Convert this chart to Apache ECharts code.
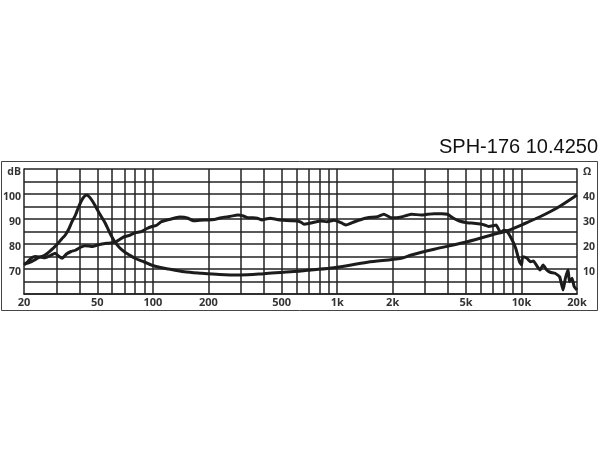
<!DOCTYPE html>
<html>
<head>
<meta charset="utf-8">
<script src="https://cdn.jsdelivr.net/npm/echarts@6/dist/echarts.min.js"></script>
<style>html,body{margin:0;padding:0;background:#fff}#c{width:600px;height:450px}</style>
</head>
<body>
<div id="c"></div>
<script>
const title = 'SPH-176 10.4250';
const xLabelValues = [20, 50, 100, 200, 500, 1000, 2000, 5000, 10000, 20000];
const gridFreqs = [30,40,50,60,70,80,90,100,200,300,400,500,600,700,800,900,1000,2000,3000,4000,5000,6000,7000,8000,9000,10000];
const dbLabels = [70, 80, 90, 100];
const ohmLabels = [10, 20, 30, 40];

const splFreq = [20,21,22,23,24.5,26,28,29.5,31,32.2,34,36,38,40,42.7,45,47,50,53,57,60,63,66,70,75,80,87,93,98,105,111,118,126,133,140,148,155,162,168,180,199,215,235,260,290,310,328,350,369,391,410,434,470,510,560,610,640,660,700,760,816,880,960,1020,1070,1118,1180,1243,1350,1460,1655,1790,1880,1960,2100,2230,2400,2525,2860,3100,3360,3700,3970,4230,4600,5080,5500,5990,6300,6620,7000,7280,7500,7700,8000,8300,8800,9300,9750,10000,10150,10700,11200,11600,12100,12600,13100,13700,14300,15200,16100,16800,17300,17900,18200,18800,19300,20000];
const splDb = [71.6,73,74.5,75,74.8,74.5,75.5,76.3,75,74.3,76,77,77.5,78.5,79.3,79.2,79,79.6,80,80.3,80.5,80.8,81.8,82.9,83.5,84.5,85,86.2,86.9,87.5,88.9,89.5,90,90.5,90.8,90.7,90.3,89.6,89.3,89.5,89.6,89.8,90.5,91,91.6,91.2,90.5,90.5,90.3,89.6,90,90.3,89.8,89.5,89.3,89.2,88.6,87.9,88.2,88.8,89.2,88.9,89.5,88.9,88.2,87.6,88.2,88.9,89.8,90.5,90.9,91.9,91.2,90.5,90.5,90.8,91.5,91.9,91.6,91.9,92.1,92.1,91.9,90.5,89.2,88.5,88.3,88,87.6,87,87.3,87.6,86,84.5,85.5,85.2,82.3,78.3,72.9,71.6,74.9,74.3,72.9,73.2,71.3,69.6,71.6,69.6,68.7,68.3,66.9,61.6,66.3,69.6,64.9,66.3,63,61.6];

const impFreq = [20,22,24,26,28,30,32,33.5,35,36.4,38,39.3,40.5,41.9,43.7,45,46.6,48.5,50.6,53,55,57.5,60,62.4,66,70,75,80,90,98,110,121.5,148,183,230,298,400,510,636,720,960,1460,2230,2525,3360,5080,7430,8300,10500,12600,15500,20000];
const impOhm = [12,13,14.5,15.6,17.5,19.6,22,23.6,26,28.9,31.5,34.3,36.5,38.5,39.6,39,37.6,35.5,33,30.5,28.5,25.5,22.8,20.7,18.5,16.9,15.5,14.3,12.8,11.6,10.6,10,8.9,8.3,7.8,7.6,8.1,8.7,9.2,9.6,10.5,12.7,14.3,15.6,17.9,20.9,24.3,25.2,28.3,30.9,34.3,39.6];

const zip = (a, b) => a.map((v, i) => [v, b[i]]);
const lineColor = '#1c1c1c';
const gridColor = '#222';
const font = 'Open Sans, DejaVu Sans, sans-serif';

const chart = echarts.init(document.getElementById('c'), null, {renderer: 'canvas'});
chart.setOption({
  animation: false,
  backgroundColor: '#fff',
  title: {
    text: title, right: -3, top: 132,
    textStyle: {fontFamily: 'Liberation Sans, Arial, sans-serif', fontSize: 20, fontWeight: 'normal', color: '#111'}
  },
  graphic: [{
    type: 'rect', shape: {x: 1.5, y: 161.5, width: 596, height: 149},
    style: {fill: 'none', stroke: '#444', lineWidth: 1}, silent: true, z: -1
  }],
  grid: {left: 22, right: 23, top: 169, bottom: 156, show: false},
  xAxis: {
    type: 'log', logBase: 10, min: 20, max: 20000,
    axisLine: {show: true, lineStyle: {color: gridColor, width: 1.5}},
    axisTick: {show: false},
    splitLine: {show: false},
    minorTick: {show: false},
    axisLabel: {
      customValues: xLabelValues,
      margin: 3,
      fontFamily: font, fontSize: 11, fontWeight: 'bold', color: '#333',
      formatter: v => v >= 1000 ? (v / 1000) + 'k' : String(v)
    }
  },
  yAxis: [{
    type: 'value', min: 60, max: 110, interval: 5,
    axisLine: {show: true, lineStyle: {color: gridColor, width: 1.5}},
    axisTick: {show: false},
    splitLine: {show: true, lineStyle: {color: gridColor, width: 1.5}},
    axisLabel: {
      margin: 3, fontFamily: font, fontSize: 10.5, fontWeight: 'bold', color: '#333',
      formatter: v => v === 110 ? 'dB' : (dbLabels.includes(v) ? String(v) : ''),
      verticalAlign: 'top', padding: [-2, 0, 0, 0]
    }
  }, {
    type: 'value', min: 0, max: 50, interval: 5, position: 'right',
    axisLine: {show: true, lineStyle: {color: gridColor, width: 1.5}},
    axisTick: {show: false},
    splitLine: {show: false},
    axisLabel: {
      margin: 6, fontFamily: font, fontSize: 10.5, fontWeight: 'bold', color: '#333',
      formatter: v => v === 50 ? 'Ω' : (ohmLabels.includes(v) ? String(v) : ''),
      verticalAlign: 'top', padding: [-2, 0, 0, 0]
    }
  }],
  series: [{
    type: 'line', name: 'grid', data: [], silent: true, z: 1,
    markLine: {
      silent: true, symbol: 'none', animation: false,
      label: {show: false},
      lineStyle: {color: gridColor, width: 1.5, type: 'solid'},
      data: gridFreqs.map(f => ({xAxis: f}))
    }
  }, {
    type: 'line', name: 'SPL', yAxisIndex: 0, data: zip(splFreq, splDb),
    showSymbol: false, smooth: 0.15, z: 5,
    lineStyle: {color: lineColor, width: 3}
  }, {
    type: 'line', name: 'Impedance', yAxisIndex: 1, data: zip(impFreq, impOhm),
    showSymbol: false, smooth: 0.3, z: 5,
    lineStyle: {color: lineColor, width: 3}
  }]
});
</script>
</body>
</html>
